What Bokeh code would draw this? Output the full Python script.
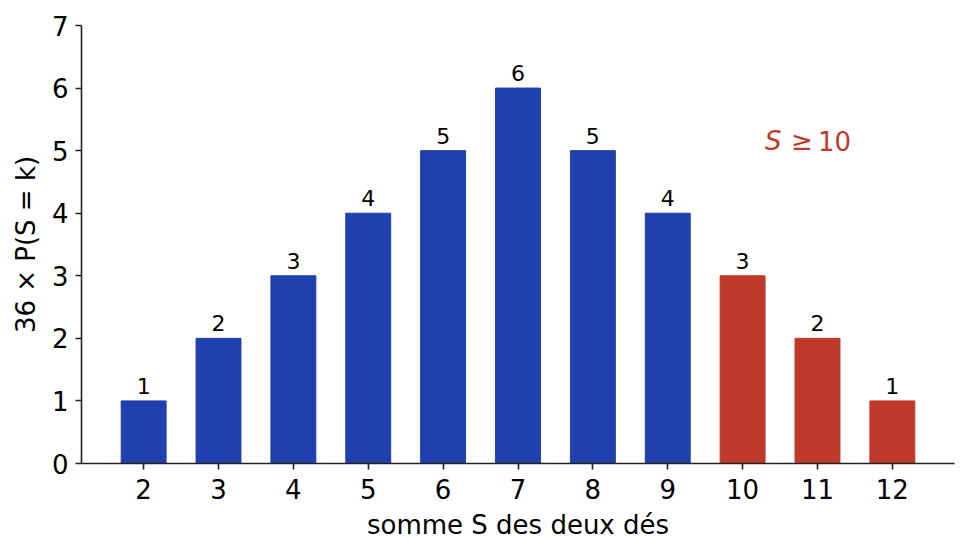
from bokeh.plotting import figure
from bokeh.models import ColumnDataSource, FixedTicker, Range1d
from bokeh.core.properties import value
from bokeh.embed import file_html
from bokeh.resources import INLINE

# ---- data ----
sums = [2, 3, 4, 5, 6, 7, 8, 9, 10, 11, 12]
counts = [1, 2, 3, 4, 5, 6, 5, 4, 3, 2, 1]
threshold = 10
x_label = "somme S des deux dés"
y_label = "36 × P(S = k)"
note_parts = ["S", "≥", "10"]
note_pos = (10.3, 5.0)

BLUE = "#1f40ae"
RED = "#c0392b"
FONT = "DejaVu Sans"

colors = [RED if s >= threshold else BLUE for s in sums]
src = ColumnDataSource(dict(x=sums, top=counts, color=colors,
                            label=[str(c) for c in counts]))

p = figure(width=961, height=549, output_backend="svg", toolbar_location=None,
           x_range=Range1d(1.17, 12.83), y_range=Range1d(0, 7),
           min_border_left=81, min_border_right=7, min_border_top=25, min_border_bottom=86)
p.outline_line_color = None
p.xgrid.grid_line_color = None
p.ygrid.grid_line_color = None
p.background_fill_color = "white"
p.border_fill_color = "white"

p.vbar(x="x", top="top", bottom=0, width=0.6, color="color", source=src)

p.text(x="x", y="top", text="label", source=src, text_align="center",
       text_baseline="alphabetic", y_offset=-15, text_font=value(FONT),
       text_font_size="22px", text_color="black")

# annotation S >= 10
p.text(x=[note_pos[0]], y=[note_pos[1]], text=[note_parts[0]], text_font=value(FONT),
       text_font_style="italic", text_font_size="26px", text_color=RED,
       text_align="left", text_baseline="alphabetic", y_offset=-10)
p.text(x=[note_pos[0]], y=[note_pos[1]], text=[note_parts[1]], text_font=value(FONT),
       text_font_size="26px", text_color=RED, x_offset=26, y_offset=-10,
       text_align="left", text_baseline="alphabetic")
p.text(x=[note_pos[0]], y=[note_pos[1]], text=[note_parts[2]], text_font=value(FONT),
       text_font_size="26px", text_color=RED, x_offset=53, y_offset=-10,
       text_align="left", text_baseline="alphabetic")

for ax in (p.xaxis[0], p.yaxis[0]):
    ax.axis_line_color = "#222222"
    ax.axis_line_width = 1.6
    ax.major_tick_line_color = "#222222"
    ax.major_tick_line_width = 1.6
    ax.major_tick_out = 6
    ax.major_tick_in = 0
    ax.minor_tick_line_color = None
    ax.major_label_text_font = FONT
    ax.major_label_text_font_size = "26px"
    ax.major_label_text_color = "black"
    ax.axis_label_text_font = FONT
    ax.axis_label_text_font_size = "26px"
    ax.axis_label_text_font_style = "normal"
    ax.axis_label_text_color = "black"

p.xaxis.ticker = FixedTicker(ticks=sums)
p.yaxis.ticker = FixedTicker(ticks=list(range(0, 8)))
p.xaxis.axis_label = x_label
p.yaxis.axis_label = y_label
p.xaxis.major_label_standoff = 9
p.yaxis.major_label_standoff = 7
p.xaxis.axis_label_standoff = 8
p.yaxis.axis_label_standoff = 8

open("out.html", "w").write(file_html(p, INLINE))
